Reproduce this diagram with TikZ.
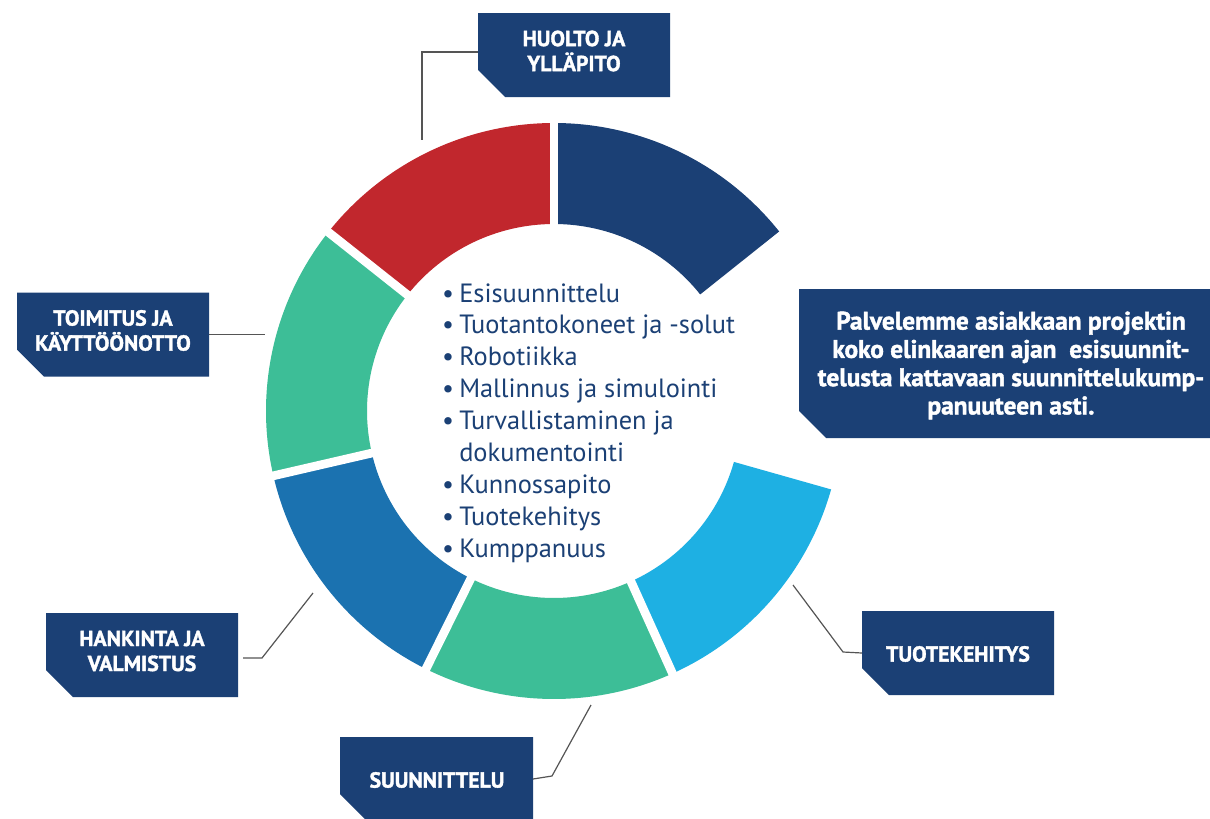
\documentclass[tikz,border=0pt]{standalone}
\usepackage{fontspec}
\setmainfont{PT Sans}[BoldFeatures={FakeBold=1.6}]
\usetikzlibrary{calc}
\definecolor{navy}{RGB}{27,64,117}
\definecolor{ringred}{RGB}{193,39,45}
\definecolor{ringgreen}{RGB}{61,190,151}
\definecolor{ringmid}{RGB}{27,114,176}
\definecolor{ringlight}{RGB}{30,176,227}
\definecolor{connGray}{RGB}{85,85,85}
\newcommand\lblfont{\fontsize{16.3pt}{18.75pt}\selectfont\bfseries}
\newcommand\infofont{\fontsize{19pt}{21.2pt}\selectfont\bfseries}
\newcommand\listfont{\fontsize{19.8pt}{23.9pt}\selectfont}
\begin{document}
\begin{tikzpicture}[x=0.75pt,y=-0.75pt,
  labelbox/.style={minimum width=#1*0.75pt, minimum height=84*0.75pt, inner sep=0pt, outer sep=0pt,
    path picture={\fill[navy] (path picture bounding box.north west) -- (path picture bounding box.north east)
      -- (path picture bounding box.south east) -- ([xshift=20.25pt]path picture bounding box.south west)
      -- ([yshift=20.25pt]path picture bounding box.south west) -- cycle;}},
  labelbox/.default=192,
  labeltext/.style={text=white, font=\lblfont, align=center, inner sep=0pt},
  conn/.style={draw=connGray, line width=0.9pt},
  listitem/.style={text=navy, font=\listfont, anchor=base west, inner sep=0pt},
  gap/.style={white, line width=6.5pt}]
\useasboundingbox (0,0) rectangle (1210,818);
\fill[white] (0,0) rectangle (1210,818);
\coordinate (C) at (554,411);
% ring segments
\foreach \a/\b/\c in {-90/-38.57/navy, -141.6/-90/ringred, -193/-141.6/ringgreen,
                      -243.6/-193/ringmid, -294.3/-243.6/ringgreen, -344.2/-294.3/ringlight}
  \fill[\c] ($(C)+(\a:288)$) arc[start angle=\a, end angle=\b, radius=288]
     -- ($(C)+(\b:187)$) arc[start angle=\b, end angle=\a, radius=187] -- cycle;
\foreach \a in {-90,-141.6,-193,-243.6,-294.3}
  \draw[gap] ($(C)+(\a:175)$) -- ($(C)+(\a:300)$);
% list
\foreach \t [count=\i from 0] in {Esisuunnittelu, Tuotantokoneet ja -solut, Robotiikka,
   Mallinnus ja simulointi, Turvallistaminen ja}
  \node[listitem] (li\i) at (459,302+31.9*\i) {\llap{•\hspace{4pt}}\t};
\node[listitem] (li5) at (459,302+31.9*5) {dokumentointi};
\foreach \t [count=\i from 6] in {Kunnossapito, Tuotekehitys, Kumppanuus}
  \node[listitem] (li\i) at (459,302+31.9*\i) {\llap{•\hspace{4pt}}\t};
% boxes
\node[labelbox] (huolto) at (574,55) {};
\node[labeltext] (huoltotxt) at (574,51) {HUOLTO JA\\YLLÄPITO};
\node[labelbox] (toimitus) at (113,334.5) {};
\node[labeltext] (toimitustxt) at (113,330.5) {TOIMITUS JA\\KÄYTTÖÖNOTTO};
\node[labelbox=412, minimum height=149*0.75pt] (info) at (1005,363.5) {};
\node[labeltext, font=\infofont] (infotxt) at (1011,365.5) {Palvelemme asiakkaan projektin\\koko elinkaaren ajan~ esisuunnit-\\telusta kattavaan suunnittelukump-\\panuuteen asti.};
\node[labelbox] (hankinta) at (142,655) {};
\node[labeltext] (hankintatxt) at (142,651) {HANKINTA JA\\VALMISTUS};
\node[labelbox=193] (suunnittelu) at (436.5,779) {};
\node[labeltext] (suunnittelutxt) at (437,780) {SUUNNITTELU};
\node[labelbox] (tuote) at (958,653) {};
\node[labeltext] (tuotetxt) at (958,654) {TUOTEKEHITYS};
% connectors
\coordinate (h1) at (422,52);
\coordinate (h2) at (422,140);
\draw[conn] (huolto.west |- h1) -- (h1) -- (h2);
\coordinate (t1) at (265,334.5);
\draw[conn] (toimitus.east) -- (t1);
\coordinate (k1) at (262,658);
\coordinate (k2) at (313,593);
\draw[conn, shorten <=3.75pt] (hankinta.east |- k1) -- (k1) -- (k2);
\coordinate (s1) at (552,776);
\coordinate (s2) at (591,705);
\draw[conn] (suunnittelu.east) -- (s1) -- (s2);
\coordinate (p1) at (843,652);
\coordinate (p2) at (793,585);
\draw[conn] (tuote.west) -- (p1) -- (p2);
\end{tikzpicture}
\end{document}
